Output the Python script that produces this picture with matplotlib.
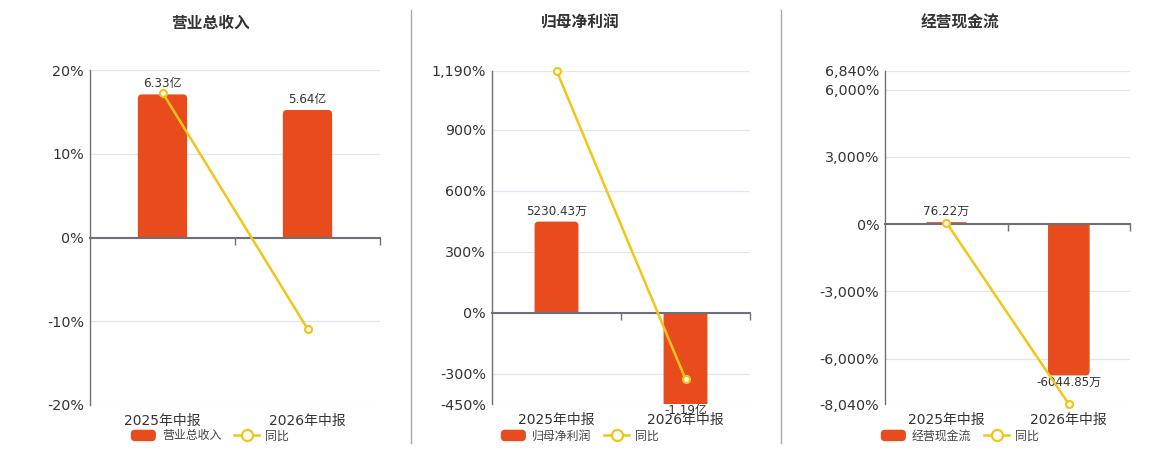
import matplotlib
matplotlib.use("Agg")
import matplotlib.pyplot as plt
from matplotlib.patches import FancyBboxPatch, Patch, PathPatch
from matplotlib.path import Path
from matplotlib.lines import Line2D
from matplotlib.legend_handler import HandlerPatch
from matplotlib.transforms import IdentityTransform
from matplotlib.ticker import FuncFormatter

plt.rcParams['font.family'] = ['DejaVu Sans', 'Noto Sans CJK SC']

# ---------------- data ----------------
categories = ['2025年中报', '2026年中报']

titles = ['营业总收入', '归母净利润', '经营现金流']

revenue = [6.33, 5.64]            # 亿
revenue_labels = ['6.33亿', '5.64亿']
revenue_yoy = [17.3, -10.9]       # %

profit = [5230.43, -11900.0]      # 万
profit_labels = ['5230.43万', '-1.19亿']
profit_yoy = [1190.0, -327.5]     # %

cashflow = [76.22, -6044.85]      # 万
cashflow_labels = ['76.22万', '-6044.85万']
cashflow_yoy = [60.0, -8030.8]    # %

pct_ticks = [
    [-20, -10, 0, 10, 20],
    [-450, -300, 0, 300, 600, 900, 1190],
    [-8040, -6000, -3000, 0, 3000, 6000, 6840],
]
pct_limits = [(-20, 20), (-450, 1190), (-8040, 6840)]
bar_limits = [(-7.41, 7.41), (-5260, 13910), (-7198, 6124)]

# ---------------- style ----------------
BAR_COLOR = '#E84C1D'
LINE_COLOR = '#F4C518'
AXIS_COLOR = '#6E7079'
GRID_COLOR = '#E0E6F1'
TEXT_COLOR = '#333333'
W, H = 1160, 450

fig = plt.figure(figsize=(W / 100, H / 100), dpi=100)

# axes pixel boxes: left, right, top, bottom
boxes = [(90, 380, 70, 405), (492, 750, 70.7, 404), (885.3, 1130, 70.7, 404.3)]
centers = [210, 580, 960]
separators = [410.5, 780.5]

panels = [
    (revenue, revenue_labels, revenue_yoy),
    (profit, profit_labels, profit_yoy),
    (cashflow, cashflow_labels, cashflow_yoy),
]


def pct_fmt(v, pos):
    return f'{v:,.0f}%'


def rounded_bars(ax, bars, r=4.0):
    """Redraw bar rectangles with rounded far-end corners (display space)."""
    fig.canvas.draw()
    bb = ax.bbox
    for rect in bars:
        x0, y0 = rect.get_x(), rect.get_y()
        w, h = rect.get_width(), rect.get_height()
        (px0, yb), (px1, yf) = ax.transData.transform([(x0, y0), (x0 + w, y0 + h)])
        yb = min(max(yb, bb.y0), bb.y1)
        yf_c = min(max(yf, bb.y0), bb.y1)
        rr = r if yf_c == yf else 0.0
        yf = yf_c
        rr = min(rr, abs(yf - yb), (px1 - px0) / 2)
        s = 1.0 if yf >= yb else -1.0
        verts = [(px0, yb), (px1, yb), (px1, yf - s * rr), (px1, yf), (px1 - rr, yf),
                 (px0 + rr, yf), (px0, yf), (px0, yf - s * rr), (px0, yb)]
        codes = [Path.MOVETO, Path.LINETO, Path.LINETO, Path.CURVE3, Path.CURVE3,
                 Path.LINETO, Path.CURVE3, Path.CURVE3, Path.CLOSEPOLY]
        p = PathPatch(Path(verts, codes), transform=IdentityTransform(),
                      facecolor=rect.get_facecolor(), edgecolor='none',
                      zorder=rect.get_zorder())
        ax.add_patch(p)
        rect.set_visible(False)


def legend_patch(legend, orig_handle, xdescent, ydescent, width, height, fontsize):
    return FancyBboxPatch((-xdescent, -ydescent), width, height,
                          boxstyle='round,pad=0,rounding_size=3')


for i, (vals, labels, yoy) in enumerate(panels):
    L, R, T, B = boxes[i]
    rect = [L / W, 1 - B / H, (R - L) / W, (B - T) / H]
    ax = fig.add_axes(rect)
    ax_bar = ax.twinx()
    ax_line = ax.twinx()

    x = list(range(len(categories)))

    # percent axis (base, left)
    ax.set_xlim(-0.5, len(categories) - 0.5)
    ax.set_ylim(*pct_limits[i])
    ax.set_yticks(pct_ticks[i])
    ax.yaxis.set_major_formatter(FuncFormatter(pct_fmt))
    ax.grid(axis='y', color=GRID_COLOR, lw=0.9)
    ax.set_axisbelow(True)
    for s in ['top', 'right', 'bottom']:
        ax.spines[s].set_visible(False)
    ax.spines['left'].set_color(AXIS_COLOR)
    ax.spines['left'].set_linewidth(1.0)
    ax.tick_params(axis='y', length=0, pad=4.3, labelsize=10.3, labelcolor=TEXT_COLOR)
    ax.set_xticks(x)
    ax.set_xticklabels(categories)
    ax.tick_params(axis='x', length=0, pad=6.5, labelsize=10, labelcolor=TEXT_COLOR)

    # bars
    ax_bar.set_ylim(*bar_limits[i])
    ax_bar.set_yticks([])
    for s in ax_bar.spines.values():
        s.set_visible(False)
    bars = ax_bar.bar(x, vals, width=0.34, color=BAR_COLOR, zorder=2)
    for xi, v, lab in zip(x, vals, labels):
        ylo, yhi = bar_limits[i]
        vv = max(min(v, yhi), ylo)
        if v >= 0:
            ax_bar.annotate(lab, (xi, vv), xytext=(0, 3), textcoords='offset points',
                            ha='center', va='bottom', fontsize=8.6, color=TEXT_COLOR)
        else:
            ax_bar.annotate(lab, (xi, vv), xytext=(0, 0), textcoords='offset points',
                            ha='center', va='top', fontsize=8.6, color=TEXT_COLOR,
                            annotation_clip=False)
    rounded_bars(ax_bar, bars)

    # line
    ax_line.set_ylim(*pct_limits[i])
    ax_line.set_yticks([])
    for s in ax_line.spines.values():
        s.set_visible(False)
    ax_line.plot(x, yoy, color=LINE_COLOR, lw=1.8, marker='o', ms=5,
                 mfc='white', mec=LINE_COLOR, mew=1.6, zorder=5, clip_on=False)

    # zero axis line with category boundary ticks
    lo, hi = pct_limits[i]
    zfrac = (0 - lo) / (hi - lo)
    sec = ax_line.secondary_xaxis(zfrac)
    sec.set_alignment('bottom')
    sec.set_xticks([0.5, 1.5])
    sec.set_xticklabels([])
    sec.tick_params(axis='x', which='both', direction='out', length=5, width=1,
                    color=AXIS_COLOR, bottom=True, top=False)
    for s in sec.spines.values():
        s.set_color(AXIS_COLOR)
        s.set_linewidth(1.5)
    sec.spines['top'].set_visible(False)
    sec.spines['bottom'].set_visible(True)
    sec.set_zorder(3)

    # title
    fig.text(centers[i] / W, 1 - 23 / H, titles[i], ha='center', va='center',
             fontsize=11.3, fontweight='bold', color=TEXT_COLOR)

    # legend
    h_bar = Patch(facecolor=BAR_COLOR, edgecolor='none')
    h_line = Line2D([], [], color=LINE_COLOR, lw=1.8, marker='o', ms=8,
                    mfc='white', mec=LINE_COLOR, mew=1.6)
    fig.legend([h_bar, h_line], [titles[i], '同比'], loc='center',
               bbox_to_anchor=(centers[i] / W, 1 - 436 / H), ncol=2, frameon=False,
               fontsize=8.6, handlelength=2.1, handleheight=1.1, handletextpad=0.5,
               columnspacing=1.1, borderpad=0, labelcolor='#444444',
               handler_map={Patch: HandlerPatch(patch_func=legend_patch)})

for sx in separators:
    fig.add_artist(Line2D([sx / W, sx / W], [1 - 10 / H, 1 - 443 / H],
                          color='#AAAAAA', lw=1))

fig.savefig('out.png', dpi=100)
